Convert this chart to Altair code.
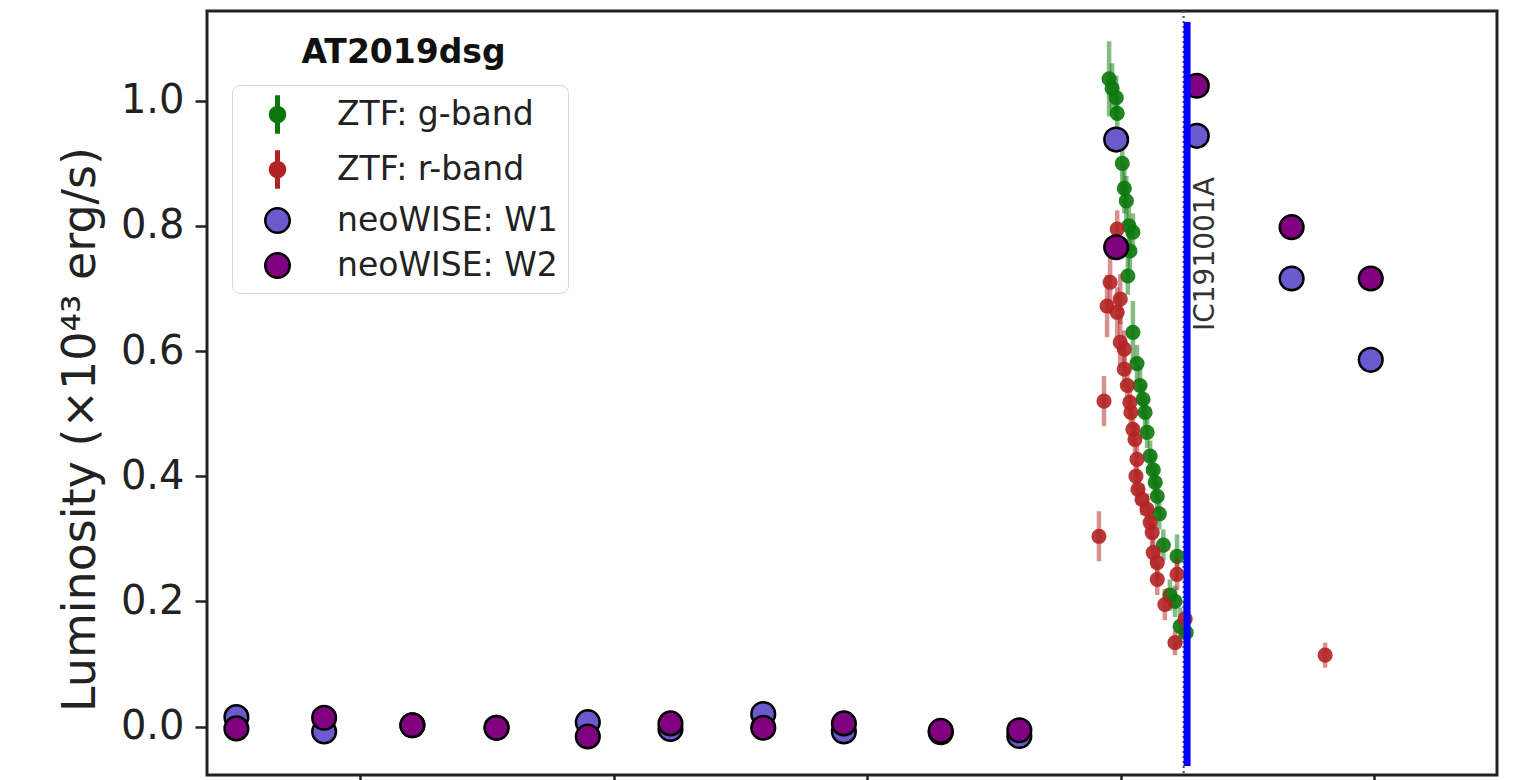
import altair as alt
import pandas as pd

# ---------------- data ----------------
# ZTF g-band: time (MJD), luminosity (1e43 erg/s), 1-sigma error
g_mjd = [58604, 58610, 58618, 58620, 58630, 58634, 58638, 58643, 58651, 58645,
         58641, 58651, 58659, 58665, 58671, 58675, 58679, 58685, 58691, 58695,
         58699, 58703, 58711, 58738, 58724, 58734, 58744, 58756]
g_lum = [1.035, 1.02, 1.005, 0.98, 0.90, 0.86, 0.84, 0.80, 0.79, 0.76,
         0.72, 0.63, 0.58, 0.545, 0.523, 0.502, 0.47, 0.432, 0.41, 0.39,
         0.368, 0.34, 0.29, 0.272, 0.21, 0.20, 0.16, 0.15]
g_err = [0.06, 0.04, 0.035, 0.03, 0.05, 0.04, 0.04, 0.03, 0.03, 0.03,
         0.03, 0.05, 0.03, 0.03, 0.025, 0.025, 0.025, 0.025, 0.025, 0.025,
         0.025, 0.025, 0.025, 0.035, 0.025, 0.025, 0.03, 0.03]

# ZTF r-band
r_mjd = [58620, 58606, 58626, 58600, 58620, 58626, 58634, 58634, 58640, 58594,
         58645, 58647, 58651, 58655, 58659, 58657, 58661, 58669, 58679, 58685,
         58689, 58584, 58691, 58699, 58699, 58714, 58738, 58754, 58734, 59030]
r_lum = [0.795, 0.71, 0.683, 0.672, 0.662, 0.614, 0.603, 0.571, 0.545, 0.52,
         0.518, 0.502, 0.475, 0.459, 0.427, 0.40, 0.379, 0.363, 0.347, 0.326,
         0.31, 0.304, 0.278, 0.262, 0.235, 0.195, 0.243, 0.172, 0.134, 0.114]
r_err = [0.03, 0.05, 0.04, 0.05, 0.04, 0.04, 0.03, 0.03, 0.03, 0.04,
         0.025, 0.025, 0.025, 0.025, 0.025, 0.025, 0.025, 0.025, 0.025, 0.025,
         0.025, 0.04, 0.025, 0.025, 0.025, 0.025, 0.025, 0.03, 0.02, 0.02]

# neoWISE epochs and luminosities
wise_mjd = [56883, 57056, 57230, 57396, 57576, 57739, 57922, 58081, 58272, 58427,
            58618, 58777, 58964, 59120]
w1_lum = [0.015, -0.008, 0.002, -0.002, 0.007, -0.004, 0.020, -0.008, -0.009, -0.015,
          0.938, 0.944, 0.716, 0.586]
w2_lum = [-0.003, 0.014, 0.002, -0.002, -0.016, 0.005, -0.002, 0.005, -0.007, -0.006,
          0.766, 1.024, 0.798, 0.716]

# neutrino IC191001A
nu_mjd = [58757.8]
nu_span = [-0.063, 1.126]
dotted_mjd = [58751]
nu_label = ["IC191001A"]
nu_label_y = [0.632]

band_names = ["ZTF: g-band", "ZTF: r-band", "neoWISE: W1", "neoWISE: W2"]
band_fill = ["#0b770b", "#b22222", "#6a5acd", "#800080"]
band_stroke = ["#0b770b", "#b22222", "#000000", "#000000"]

x_domain = [56825, 59369]
y_domain = [-0.0775, 1.1435]
x_ticks = [57127, 57627, 58127, 58627, 59127]
y_ticks = [0.0, 0.2, 0.4, 0.6, 0.8, 1.0]
title_text = "AT2019dsg"
y_title = "Luminosity (\u00d710\u2074\u00b3 erg/s)"

# ---------------- tables ----------------
g_df = pd.DataFrame({"mjd": g_mjd, "lum": g_lum, "err": g_err})
g_df["lo"] = g_df["lum"] - g_df["err"]
g_df["hi"] = g_df["lum"] + g_df["err"]
r_df = pd.DataFrame({"mjd": r_mjd, "lum": r_lum, "err": r_err})
r_df["lo"] = r_df["lum"] - r_df["err"]
r_df["hi"] = r_df["lum"] + r_df["err"]
w1_df = pd.DataFrame({"mjd": wise_mjd, "lum": w1_lum})
w2_df = pd.DataFrame({"mjd": wise_mjd, "lum": w2_lum})
nu_df = pd.DataFrame({"mjd": nu_mjd, "lo": [nu_span[0]], "hi": [nu_span[1]],
                      "lum": nu_label_y, "label": nu_label})
dot_df = pd.DataFrame({"mjd": dotted_mjd})
legend_df = pd.DataFrame({"band": band_names, "mjd": [None] * 4, "lum": [None] * 4})

FONT = "DejaVu Sans"
INK = "#222222"

xscale = alt.Scale(domain=x_domain, nice=False, zero=False)
yscale = alt.Scale(domain=y_domain, nice=False, zero=False)

xaxis_bottom = alt.Axis(values=x_ticks, labels=False, title=None, tickSize=8, tickWidth=2.5,
                        tickColor=INK, domain=False, grid=False)
xaxis_top = alt.Axis(orient="top", ticks=False, labels=False, domain=False, grid=False,
                     title=title_text, titleFont=FONT, titleFontSize=33, titleFontWeight="bold",
                     titleColor="#111111", titleX=196, titleY=51, titleAlign="center",
                     titleBaseline="alphabetic", titleAngle=0)
yaxis = alt.Axis(values=y_ticks, format=".1f", title=y_title, titleFont=FONT,
                 titleFontSize=46, titleFontWeight="normal", titleColor=INK,
                 titleX=-113, titleY=418, titleBaseline="alphabetic", titleAngle=270,
                 titleAlign="center", labelFont=FONT, labelFontSize=40, labelColor=INK,
                 labelPadding=11, tickSize=12, tickWidth=2.5, tickColor=INK,
                 domain=False, grid=False)

X = alt.X("mjd:Q", scale=xscale, axis=None)
X_bottom = alt.X("mjd:Q", scale=xscale, axis=xaxis_bottom)
X_top = alt.X("mjd:Q", scale=xscale, axis=xaxis_top)
Y = alt.Y("lum:Q", scale=yscale, axis=yaxis)
YLO = alt.Y("lo:Q", scale=yscale, axis=yaxis)


def errbars(df, col):
    return alt.Chart(df).mark_rule(strokeWidth=4.5, opacity=0.5, color=col).encode(
        x=X, y=YLO, y2="hi:Q")


def dots(df, col):
    return alt.Chart(df).mark_circle(size=230, opacity=0.9, color=col).encode(x=X, y=Y)


def wise(df, col):
    return alt.Chart(df).mark_point(shape="circle", filled=True, size=560, fill=col,
                                    stroke="black", strokeWidth=2.5, opacity=1).encode(x=X, y=Y)


dotted = alt.Chart(dot_df).mark_rule(strokeDash=[2, 3], strokeWidth=2.2, color="#555555").encode(
    x=X_bottom)
blue = alt.Chart(nu_df).mark_rule(strokeWidth=7, color="#0000ff").encode(
    x=X_top, y=YLO, y2="hi:Q")
label = alt.Chart(nu_df).mark_text(angle=270, align="left", baseline="alphabetic", dy=27,
                                   fontSize=28, font=FONT, color="#333333").encode(
    x=X, y=Y, text="label:N")

ztf_glyph = ("M-0.07,-1L0.07,-1L0.07,1L-0.07,1Z"
             "M-0.42,0A0.42,0.42 0 1,1 0.42,0A0.42,0.42 0 1,1 -0.42,0Z")
wise_glyph = "M-0.68,0A0.68,0.68 0 1,1 0.68,0A0.68,0.68 0 1,1 -0.68,0Z"
shape_range = [ztf_glyph, ztf_glyph, wise_glyph, wise_glyph]

leg = alt.Legend(title=None, orient="none", legendX=25, legendY=74, direction="vertical",
                 labelFont=FONT, labelFontSize=33, labelColor=INK, labelLimit=0,
                 symbolSize=1296, symbolStrokeWidth=2.5, symbolOpacity=1, rowPadding=8,
                 padding=10, labelOffset=40, symbolOffset=16, strokeColor="#d5d5d5",
                 fillColor="white", cornerRadius=8)

helper = alt.Chart(legend_df).mark_point(filled=True, opacity=1).encode(
    x=X, y=Y,
    color=alt.Color("band:N", scale=alt.Scale(domain=band_names, range=band_fill), legend=leg),
    stroke=alt.Stroke("band:N", scale=alt.Scale(domain=band_names, range=band_stroke), legend=leg),
    shape=alt.Shape("band:N", scale=alt.Scale(domain=band_names, range=shape_range), legend=leg),
)

chart = alt.layer(
    errbars(g_df, band_fill[0]), dots(g_df, band_fill[0]),
    errbars(r_df, band_fill[1]), dots(r_df, band_fill[1]),
    wise(w1_df, band_fill[2]), wise(w2_df, band_fill[3]),
    dotted, blue, label, helper,
).resolve_axis(x="independent").properties(
    width=1290, height=764,
    autosize=alt.AutoSizeParams(type="none"),
    padding={"left": 199, "top": 3, "right": 20, "bottom": 5},
).configure(background="white").configure_view(stroke=INK, strokeWidth=3)

chart.save("out.html", embed_options={"renderer": "svg", "actions": False})
